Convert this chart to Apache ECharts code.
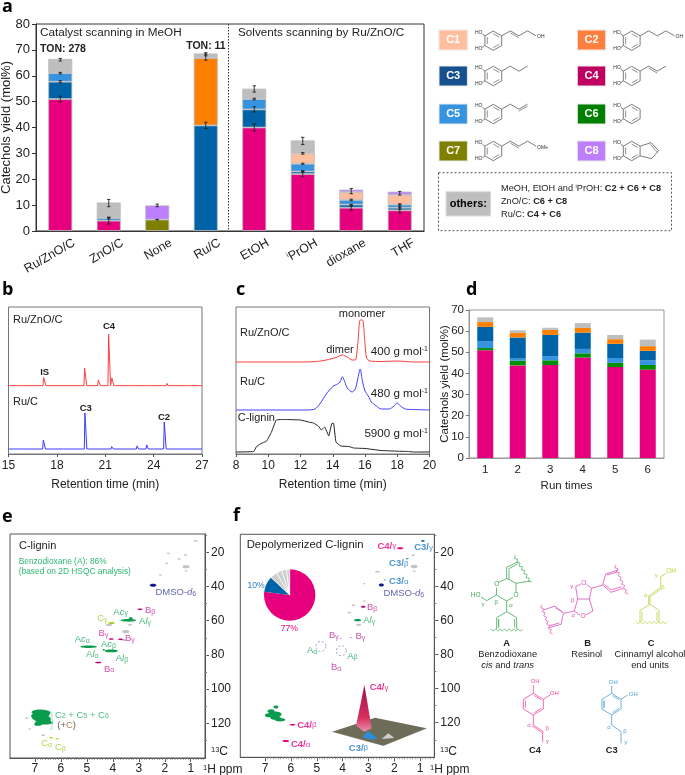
<!DOCTYPE html>
<html><head><meta charset="utf-8">
<style>html,body{margin:0;padding:0;background:#fff}#c{width:685px;height:775px}</style>
<script src="https://cdn.jsdelivr.net/npm/echarts@6/dist/echarts.min.js"></script>
</head><body><div id="c"></div>
<script>
// ---------- panel a ----------
const catsA = ['Ru/ZnO/C','ZnO/C','None','Ru/C','EtOH','{s|i}PrOH','dioxane','THF'];
const aC7 = [null,null,4.4,null,null,null,null,null];
const aC4 = [51,4,null,null,40,22,9,8];
const aC3 = [6.7,null,null,40.8,7,1,1.2,1];
const aC5 = [3.3,1,null,null,4,3,1.8,1.2];
const aC2 = [null,null,null,26,null,null,null,null];
const aC1 = [null,null,null,null,null,4,3,3.8];
const aC8 = [null,null,5.5,null,null,null,1,1.2];
const aOthers = [5.5,6,null,1.8,4,5,null,null];
const aErr = [ // [category, segment top, error]
 [0,51,1.1],[0,57.7,.4],[0,61,.3],[0,66.2,.5],
 [1,4,1.3],[1,5,.3],[1,10.8,1.4],
 [2,4.4,.1],[2,9.9,.5],
 [3,40.8,1.2],[3,67.2,1.2],[3,68.3,.6],
 [4,40,1.4],[4,47,1],[4,51,.3],[4,54.9,1.2],
 [5,22,1],[5,23,.3],[5,26,.2],[5,30,.3],[5,34.8,1.4],
 [6,9,1],[6,10,.3],[6,12,.3],[6,15.4,1],
 [7,8,1],[7,9.4,1],[7,10,.4],[7,14.6,.7]];
// ---------- panel b ----------
const bRed = [[15,46.5],[15.8,46.5],[15.85,47.2],[15.9,46.5],[17.14,46.5],[17.18,52],[17.27,52],[17.32,46.5],[18.5,46.5],[18.55,47],[18.6,46.5],[19.68,46.5],[19.72,58.5],[19.8,58.5],[19.85,46.5],[20.53,46.5],[20.57,50.4],[20.66,50.4],[20.7,46.5],[21.17,46.5],[21.21,81.6],[21.29,81.6],[21.33,46.5],[21.37,46.5],[21.41,51.7],[21.49,51.5],[21.53,46.5],[22.9,46.5],[22.95,47.2],[23,46.5],[23.55,46.5],[23.6,47.4],[23.65,46.5],[24.6,46.5],[24.65,47.4],[24.7,46.5],[24.78,46.5],[24.83,48],[24.9,46.5],[26.1,46.5],[26.15,47],[26.2,46.5],[27,46.5]];
const bBlue = [[15,3.4],[15.8,3.4],[15.85,4],[15.9,3.4],[17.12,3.4],[17.16,9.5],[17.25,9.5],[17.29,3.4],[18.4,3.4],[18.45,3.9],[18.5,3.4],[19.7,3.4],[19.74,27.9],[19.82,27.9],[19.86,3.4],[21.2,3.4],[21.25,4],[21.3,3.4],[21.36,3.4],[21.4,5],[21.47,5],[21.5,3.4],[22.93,3.4],[22.97,5.5],[23.03,5.5],[23.07,3.4],[23.53,3.4],[23.57,6.2],[23.63,6.2],[23.67,3.4],[24,3.4],[24.05,4.4],[24.1,3.4],[24.62,3.4],[24.66,21.8],[24.74,21.8],[24.78,3.4],[25.9,3.4],[25.95,4],[26,3.4],[27,3.4]];
// ---------- panel c ----------
const cRed = [[8,92],[12,92],[13,92.5],[13.6,94],[14.2,96.5],[14.6,99],[14.9,97],[15.2,94],[15.4,94],[15.55,110],[15.7,134],[15.85,134],[16,110],[16.1,96],[16.3,93],[17,92.5],[18,93],[19,92],[20,92]];
const cBlue = [[8,44],[12.4,44],[12.9,45],[13.2,50],[13.6,60],[14,67.5],[14.3,70],[14.45,72],[14.6,77.3],[14.75,72],[14.9,66],[15.2,62],[15.4,65],[15.55,75],[15.7,85],[15.85,72],[16,63],[16.2,58],[16.4,52],[16.7,48],[17,45],[17.5,45],[17.8,48],[18,51],[18.2,48],[18.5,45],[19,44.5],[20,44]];
const cBlack = [[8,2],[9.1,2.5],[9.25,7],[9.5,10],[9.9,13],[10.2,22],[10.5,34],[11,34.5],[12,34],[12.5,32],[12.8,31],[13.1,28],[13.3,24],[13.5,27],[13.75,18],[13.95,30.7],[14.05,30.7],[14.2,12],[14.5,8],[15,7.5],[15.3,6],[16,5.5],[17,3.5],[18,2.8],[18.7,2.5],[19,2],[20,2]];
// ---------- panel d ----------
const catsD = ['1','2','3','4','5','6'];
const dC4 = [51,43.8,44,47.5,43,41.8];
const dC6 = [1,2.2,2.2,2,2,2.2];
const dC5 = [3.3,1,2,2.1,2.3,2.2];
const dC3 = [6.7,10,10,7.7,6.7,4.5];
const dC2 = [2.3,2.1,2.4,2.2,2.2,2.2];
const dOthers = [2.2,1.3,1,2.3,2,3.1];
// ---------- panels e,f  [1H ppm, 13C ppm, half width ppm, half height ppm] ----------
const ticksH = [1,2,3,4,5,6,7];
const ticksC = [20,40,60,80,100,120];
const eGray = [[.81,13.4,.09,.5],[1.86,20.6,.07,.4],[1.2,21.6,.07,.4],[1.45,23.9,.07,.4],[1.93,26.4,.06,.4],[1.18,28.4,.14,1],[1.18,30.9,.06,.4],[2.17,33.3,.06,.4],[4.15,62.5,.13,.6],[3.34,62.5,.08,.5],[3.5,66.4,.14,.9],[3.57,71.3,.08,.6],[7.32,117,.08,.4],[7.2,123.3,.06,.4],[6.68,127,.08,.4]];
const eNavy = [[2.45,39.3,.13,.9]];
const eMag = [[2.95,53.3,.1,.5],[4.06,70.7,.1,.5],[3.7,70.9,.1,.5],[4.56,84.5,.13,.5]];
const eGreen = [[3.31,58.6,.08,.6],[3.4,59.8,.3,.8],[4.93,75.2,.32,.7],[4.06,77.7,.25,.8],[4.35,77,.05,.4],[6.8,113.5,.33,1.6],[6.95,115.8,.2,1.8],[6.55,114,.15,1.5],[6.75,115.3,.3,1.8],[6.75,117,.35,1.5],[6.7,118,.32,1.5],[6.65,119.5,.35,1.2],[6.88,120.5,.15,1]];
const eLime = [[4.05,61.3,.13,.6],[6.38,128.4,.08,.4],[6.15,129,.07,.4]];
const eLabels = [
 [3.98,54.9,'A{i|c}{s|γ}','#1fa85f'],[2.99,60.5,'A{i|l}{s|γ}','#1fa85f'],[2.76,53.9,'B{s|β}','#d0209a'],
 [4.6,58.8,'C{s|γ}','#9ccc20'],[4.55,67.6,'B{s|γ}','#d0209a'],[3.53,70.3,'B{s|γ}','#d0209a'],
 [5.47,71,'A{i|c}{s|α}','#1fa85f'],[4.46,73.8,'A{i|c}{s|β}','#1fa85f'],[5.03,79.8,'A{i|l}{s|α}','#1fa85f'],
 [3.89,82.2,'A{i|l}{s|β}','#1fa85f'],[4.34,88.2,'B{s|α}','#d0209a'],[2.36,43.4,'DMSO-{i|d}{s|6}','#3a3a9c'],
 [6.76,131.9,'C{s|α}','#9ccc20'],[6.23,134.2,'C{s|β}','#9ccc20'],
 [6.23,115.1,'C{s|2} + C{s|5} + C{s|6}','#1fa85f'],[6.14,121.4,'(+{b|C})','#333']];
const fGray = [[1.26,21.6,.07,.4],[1.23,28.2,.14,1],[1.23,30.9,.08,.4],[2.65,31.3,.1,.4],[3.16,38.3,.05,.4],[3.16,48.5,.05,.4],[3.58,51,.08,.5],[3.74,55.3,.08,.5],[3.38,62.5,.1,.7]];
const fNavy = [[2.5,39.1,.1,.9]];
const fBlue = [[.89,13.2,.07,.5],[1.5,23.7,.06,.3],[2.37,36.2,.04,.3]];
const fMag = [[1.77,17.5,.12,.6],[5.94,121.2,.12,.5],[6.2,130.7,.13,.6]];
const fPurple = [[3.2,51.8,.09,.6],[4.07,70.3,.03,.25],[3.68,70.1,.03,.25],[4.4,85,.02,.2]];
const fGreen = [[3.42,59.8,.14,.7],[6.58,110.8,.1,.9],[6.77,113.2,.14,1.1],[6.62,115,.26,1.6],[6.85,115.6,.16,1.2],[6.42,118.2,.2,1],[6.6,117,.2,1.3]];
const fRings = [[4.84,75.2],[4.05,77.7]];
const fLabels = [
 [2.65,16.3,'{w|C4/}{s2|γ}','#e6007e'],[1.23,17,'{w|C3/}{s2|γ}','#1a78c0'],[2.2,26.6,'{w|C3/}{s2|β}','#1a78c0'],
 [2.2,37,'{w|C3/}{s2|α}','#1a78c0'],[2.42,44,'DMSO-{i|d}{s|6}','#3a3a9c'],[3.06,52.2,'B{s|β}','#c0289a'],
 [3.2,60,'A{i|l}{s|γ}','#1fa85f'],[4.53,68.5,'B{s|γ}','#c0289a'],[3.5,69.5,'B{s|γ}','#c0289a'],
 [5.38,77.5,'A{s|α}','#1fa85f'],[3.82,80.8,'A{s|β}','#1fa85f'],[4.45,87.5,'B{s|α}','#c0289a'],
 [5.76,121.4,'{w|C4/}{s2|β}','#e6007e'],[6,133,'{w|C4/}{s2|α}','#e6007e'],
 [2.95,99.3,'{w|C4/}{s2|γ}','#e6007e'],[3.76,134.8,'{w|C3/}{s2|β}','#1a78c0']];
const pieValues = [77,10,4.5,3.5,3,2];

// ---------- styling constants ----------
const FF = '"Liberation Sans", Arial, sans-serif';
const COL = {C1:'#FFBE9E',C2:'#FF8000',C3:'#0063A8',C4:'#E6007E',C5:'#3593E0',C6:'#009000',C7:'#808000',C8:'#BE7FFF',oth:'#BEBEBE'};
const TXT = '#222';
const G = [];
function T(x,y,text,o){o=o||{};
 G.push({type:'text',x,y,silent:true,z:50,style:{text,fill:o.c||TXT,fontFamily:o.ff||FF,fontSize:o.s||11,fontWeight:o.b?'bold':'normal',fontStyle:o.it?'italic':'normal',align:o.a||'left',verticalAlign:'middle',rich:o.rich}});}
function L(pts,color,w,dash,fill){G.push({type:'polyline',silent:true,z:40,shape:{points:pts},style:{stroke:color,lineWidth:w||.7,fill:fill||null,lineDash:dash||null}});}
function R(x,y,w,h,fill,stroke,dash){G.push({type:'rect',silent:true,z:30,shape:{x,y,width:w,height:h},style:{fill:fill||'none',stroke:stroke||null,lineWidth:stroke?1:0,lineDash:dash||null}});}
function PG(pts,fill,op){G.push({type:'polygon',silent:true,z:45,shape:{points:pts},style:{fill,opacity:op==null?1:op}});}
const Z=(ox,oy,pts)=>pts.map(p=>[ox+p[0]/3,oy+p[1]/3]);
function wavy(p,q,color){const n=Math.round(Math.hypot(q[0]-p[0],q[1]-p[1])/2.2),dx=(q[0]-p[0])/n,dy=(q[1]-p[1])/n,l=Math.hypot(dx,dy),pts=[];
 for(let i=0;i<=n;i++){const s=i%2?1.2:-1.2;pts.push([p[0]+dx*i-dy/l*s,p[1]+dy*i+dx/l*s]);}L(pts,color,.7);}
function dbl(a,b,ox,oy,color,w){L([[a[0]+ox,a[1]+oy],[b[0]+ox,b[1]+oy]],color,w);}

// panel letters
[['a',2,7],['b',2,290],['c',236,290],['d',466,290],['e',2,517],['f',233,516]].forEach(a=>T(a[1],a[2],a[0],{s:18,b:1,ff:'"Open Sans",'+FF,c:'#000'}));

// small catechol structures of panel a
function mol(cx,cy,pattern,end){const r=9.7,c='#444',v=[];for(let i=0;i<6;i++){const a=(-90+60*i)*Math.PI/180;v.push([cx+r*Math.cos(a),cy+r*Math.sin(a)]);}
 L(v.concat([v[0]]),c,.7);
 [[0,1],[2,3],[4,5]].forEach(e=>{const s=.72;L([[cx+(v[e[0]][0]-cx)*s,cy+(v[e[0]][1]-cy)*s],[cx+(v[e[1]][0]-cx)*s,cy+(v[e[1]][1]-cy)*s]],c,.6);});
 L([v[5],[v[5][0]-2.5,v[5][1]-2]],c,.7);L([v[4],[v[4][0]-2.5,v[4][1]+2]],c,.7);
 T(v[5][0]-2.5,v[5][1]-3.2,'HO',{s:5,a:'right',c:'#333'});T(v[4][0]-2.5,v[4][1]+3.2,'HO',{s:5,a:'right',c:'#333'});
 let p=v[1];(pattern||'').split('').forEach(ch=>{const up=ch.toLowerCase()==='u',q=[p[0]+8.6,p[1]+(up?-5:5)];L([p,q],c,.7);if(ch===ch.toUpperCase())dbl(p,q,0,2,c,.6);p=q;});
 if(end)T(p[0]+1,p[1]+1,end,{s:5,c:'#333'});
 return v;}
[['C1',439,30,COL.C1,493.3,40.7,'uDud','OH'],['C2',577.3,30,'#FF7F3F',631.7,40.7,'udud','OH'],
 ['C3',439,66,'#17508F',493.3,76,'udu',''],['C4',577.3,66,'#BF0060',631.7,76,'uDu',''],
 ['C5',439,104,COL.C5,493.3,114,'udU',''],['C6',577.3,104,'#007F00',631.7,114,'',''],
 ['C7',439,141,COL.C7,493.3,151,'uDud','OMe'],['C8',577.3,141,COL.C8,631.7,151,'','']].forEach(m=>{
  R(m[1],m[2],28.4,20,m[3],'#e8e8e8');T(m[1]+14.2,m[2]+10,m[0],{s:11,b:1,c:'#fff',a:'center'});
  const v=mol(m[4],m[5],m[6],m[7]);
  if(m[0]==='C8'){const a=[v[1][0]+11,v[1][1]-3.5],b=[a[0]+7.5,a[1]+8],c=[b[0]-7,b[1]+8];L([v[1],a,b,c,v[2]],'#444',.7);dbl(a,b,-1,1.6,'#444',.6);}
 });
R(438.5,172.7,233,58,null,'#555',[2,2]);
R(446,191.7,44.7,24.3,COL.oth,'#ddd');T(468.3,203.8,'others:',{s:11,b:1,c:'#000',a:'center'});
T(501,188,'MeOH, EtOH and {u|i}PrOH: {b|C2 + C6 + C8}',{s:9.2,rich:{u:{fontSize:5.5,verticalAlign:'top',fill:TXT,fontFamily:FF},b:{fontSize:9.2,fontWeight:'bold',fill:TXT,fontFamily:FF}}});
T(501,201.7,'ZnO/C: {b|C6 + C8}',{s:9.2,rich:{b:{fontSize:9.2,fontWeight:'bold',fill:TXT,fontFamily:FF}}});
T(501,214.3,'Ru/C: {b|C4 + C6}',{s:9.2,rich:{b:{fontSize:9.2,fontWeight:'bold',fill:TXT,fontFamily:FF}}});

// panel a annotations
L([[228.5,24],[228.5,231]],'#333',1,[1.5,1.5]);
T(40,33,'Catalyst scanning in MeOH',{s:11.7});
T(238,33,'Solvents scanning by Ru/ZnO/C',{s:11.7});
T(40,49,'TON: 278',{s:10.5,b:1});T(225.7,46,'TON: 11',{s:10.5,b:1,a:'right'});
// panel b annotations
T(13,320,'Ru/ZnO/C',{s:11});T(109,326,'C4',{s:9.5,b:1,a:'center'});T(44.7,372.7,'IS',{s:9.5,b:1,a:'center'});
T(13,401.7,'Ru/C',{s:11});T(85.7,408,'C3',{s:9.5,b:1,a:'center'});T(164,417.7,'C2',{s:9.5,b:1,a:'center'});
// panel c annotations
const supR={u:{fontSize:7,verticalAlign:'top',fill:TXT,fontFamily:FF}};
T(362,314,'monomer',{s:11,a:'center'});T(240,332.7,'Ru/ZnO/C',{s:11});T(340,350,'dimer',{s:11,a:'center'});
T(428,352,'400 g mol{u|-1}',{s:11.6,a:'right',rich:supR});T(240,382,'Ru/C',{s:11});
T(428,394,'480 g mol{u|-1}',{s:11.6,a:'right',rich:supR});T(237.7,418,'C-lignin',{s:11});
T(428,434,'5900 g mol{u|-1}',{s:11.6,a:'right',rich:supR});
// panel e annotations
T(19,545.7,'C-lignin',{s:11});T(18.7,561.7,'Benzodioxane (A): 86%',{s:8.4,c:'#2eb872'});T(18.7,572,'(based on 2D HSQC analysis)',{s:8.4,c:'#2eb872'});
L(Z(0,505,[[149,620],[156,622],[156,644],[160,646],[156,648],[156,672],[149,674]]),'#8fdcb8',.8);
const ax={u:{fontSize:7.5,verticalAlign:'top',fill:TXT,fontFamily:FF}};
T(211,752,'{u|13}C',{s:12,rich:ax});T(203,770,'{u|1}H ppm',{s:12,rich:ax});
T(440,752,'{u|13}C',{s:12,rich:ax});T(430,770,'{u|1}H ppm',{s:12,rich:ax});
// panel f annotations
T(246.7,545,'Depolymerized C-lignin',{s:11.3});T(256,586,'10%',{s:8.6,a:'center',c:'#2a80c0'});T(289.3,628.7,'77%',{s:8.6,a:'center',c:'#e6007e'});
// 3D inset of panel f
PG(Z(325,675,[[22,170],[150,128],[305,160],[175,212]]),'#6c6c58');
PG(Z(325,675,[[170,192],[190,175],[208,189]]),'#cfcfcf');
PG(Z(325,675,[[112,186],[130,168],[158,190],[138,194]]),'#2a8fd8');
G.push({type:'polygon',silent:true,z:46,shape:{points:Z(325,675,[[93,152],[108,80],[118,30],[125,70],[140,160],[118,170]])},style:{fill:{type:'linear',x:0,y:0,x2:0,y2:1,colorStops:[{offset:0,color:'#a0104e'},{offset:.7,color:'#d8305f'},{offset:1,color:'#e890b0'}]}}});
L(Z(325,675,[[22,170],[175,212],[305,160]]),'#aaa',.8,[1,1]);

// panel A..C4,C3 drawings
const GR='#3fa858',MG='#dc50b4',LM='#b4d63c',PK='#f04aa4',BL='#4f9fd4',O7=[455,505];
const zl=(pts,c,w)=>L(Z(O7[0],O7[1],pts),c,w||.8);
const zt=(x,y,t,c,o)=>T(O7[0]+x/3,O7[1]+y/3,t,Object.assign({s:6,c:c,a:'center'},o||{}));
const zw=(a,b,c)=>wavy([O7[0]+a[0]/3,O7[1]+a[1]/3],[O7[0]+b[0]/3,O7[1]+b[1]/3],c);
// A
zl([[125,372],[125,338],[155,320],[185,338],[185,372]],GR);zl([[131,342],[131,368]],GR,1);zl([[179,342],[179,368]],GR);
zl([[155,320],[155,288],[174,277]],GR);zl([[155,288],[124,270],[125,248]],GR);zl([[132,232],[155,220],[183,235],[183,262]],GR);
zl([[155,220],[155,187],[190,170]],GR);zl([[160,192],[188,177]],GR);zl([[183,235],[225,228]],GR);zl([[162,225],[162,194]],GR);
zl([[124,270],[95,287],[78,276]],GR);zw([178,153],[227,233],GR);zw([108,375],[203,375],GR);
zt(125,238,'O',GR,{s:6.5});zt(183,270,'O',GR,{s:6.5});zt(62,271,'HO',GR,{s:6.5});zt(84,299,'γ',GR);zt(124,292,'β',GR);zt(168,300,'α',GR);
// B
zl([[368,282],[362,245],[378,237]],MG);zl([[394,238],[410,250],[403,282],[368,282],[358,318],[375,330]],MG);zl([[392,330],[414,318],[403,282]],MG);
zl([[410,250],[443,240],[452,207],[490,195]],MG);zl([[443,240],[468,262],[505,250]],MG);zl([[456,210],[486,201]],MG);zl([[448,238],[468,255],[500,245]],MG);
zl([[358,318],[325,325],[300,303],[265,315]],MG);zl([[325,325],[318,358],[282,368]],MG);zl([[322,320],[302,309]],MG);zl([[313,354],[284,362]],MG);
zw([480,180],[516,268],MG);zw([258,300],[290,388],MG);
zt(386,235,'O',MG,{s:6.5});zt(384,333,'O',MG,{s:6.5});zt(350,243,'γ',MG);zt(353,285,'β',MG);zt(355,330,'α',MG);
// C
zl([[555,352],[555,316],[585,298],[612,316],[612,352]],LM);zl([[561,320],[561,348]],LM);zl([[606,320],[606,348]],LM);zl([[585,298],[585,270],[617,247],[617,215],[634,205]],LM);zl([[589,273],[619,251]],LM);zl([[581,298],[581,272]],LM);
zw([543,353],[637,353],LM);zt(648,200,'OH',LM,{s:6.5});zt(604,212,'γ',LM);zt(624,248,'β',LM);zt(572,270,'α',LM);
// C4
zl([[235,565],[205,583],[205,612],[235,630],[265,612],[265,583],[235,565],[235,540]],PK);zl([[211,587],[211,608]],PK);zl([[238,572],[258,584]],PK);zl([[238,623],[258,610]],PK);zl([[265,583],[285,570]],PK);
zl([[235,630],[235,660],[263,678],[263,712]],PK);zl([[231,662],[260,682]],PK);zt(240,530,'OH',PK,{s:6});zt(298,565,'OH',PK,{s:6});zt(222,661,'α',PK);zt(277,671,'β',PK);zt(277,710,'γ',PK);
// C3
zl([[470,565],[441,583],[441,612],[470,630],[498,612],[498,583],[470,565],[470,543]],BL);zl([[447,587],[447,608]],BL,1.2);zl([[473,572],[492,584]],BL);zl([[473,623],[492,610]],BL);zl([[498,583],[518,570]],BL);
zl([[470,630],[470,660],[498,680],[498,715]],BL);zt(475,533,'OH',BL,{s:6});zt(535,567,'OH',BL,{s:6});zt(462,667,'α',BL);zt(510,678,'β',BL);zt(512,712,'γ',BL);
const lab=[[155,416,'A',1],[158,449,'Benzodioxane'],[398,416,'B',1],[395,449,'Resinol'],[588,416,'C',1],[585,449,'Cinnamyl alcohol'],[585,480,'end units'],[240,737,'C4',1],[470,737,'C3',1]];
lab.forEach(l=>zt(l[0],l[1],l[2],'#222',{s:9.3,b:l[3]}));
T(O7[0]+158/3,O7[1]+480/3,'{i|cis} and {i|trans}',{s:9.3,a:'center',rich:{i:{fontSize:9.3,fontStyle:'italic',fill:TXT,fontFamily:FF}}});

// ---------- axes ----------
const tickTxt=(s,extra)=>Object.assign({color:TXT,fontFamily:FF,fontSize:s},extra||{});
const grids=[
 {left:36,top:24,width:388,height:207,borderColor:'#333'},
 {left:8.5,top:307,width:193.5,height:147,borderColor:'#777'},
 {left:236,top:307,width:193.5,height:147,borderColor:'#777'},
 {left:469,top:310,width:195,height:148,borderColor:'#999'},
 {left:10,top:534,width:195,height:224,borderColor:'#555'},
 {left:240.3,top:534.3,width:194,height:223,borderColor:'#555'}
].map(g=>Object.assign({show:true,borderWidth:1,backgroundColor:'#fff',outerBoundsMode:'none',containLabel:false},g));
function nmrX(grid,min,max){const base={type:'value',gridIndex:grid,inverse:true,min,max,position:'bottom',splitLine:{show:false},axisLine:{show:true,onZero:false,lineStyle:{color:'#555'}}};
 const minor=[];for(let v=1;v<=70;v++){const t=v/10;if(t>min&&t<max)minor.push(t);}
 return [Object.assign({},base,{axisTick:{show:true,customValues:ticksH,length:4,lineStyle:{color:'#555'}},axisLabel:{show:true,customValues:ticksH,margin:5,...tickTxt(12)}}),
  Object.assign({},base,{axisTick:{show:true,customValues:minor,length:2,lineStyle:{color:'#777',width:.6}},axisLabel:{show:false}})];}
function nmrY(grid,min,max){const base={type:'value',gridIndex:grid,inverse:true,min,max,position:'right',splitLine:{show:false},axisLine:{show:true,onZero:false,lineStyle:{color:'#555'}}};
 const minor=[];for(let v=10;v<=130;v+=10)if(v>min&&v<max)minor.push(v);
 return [Object.assign({},base,{axisTick:{show:true,customValues:ticksC,length:4,lineStyle:{color:'#555'}},axisLabel:{show:true,customValues:ticksC,margin:6,...tickTxt(12)}}),
  Object.assign({},base,{axisTick:{show:true,customValues:minor,length:2,lineStyle:{color:'#777'}},axisLabel:{show:false}})];}
const xAxis=[
 {type:'category',gridIndex:0,data:catsA,axisTick:{show:false},axisLine:{lineStyle:{color:'#333'}},
  axisLabel:{interval:0,rotate:30,margin:19,padding:[0,-16,0,0],...tickTxt(12.5),rich:{s:{fontSize:7,verticalAlign:'top',fontFamily:FF,color:TXT}}}},
 {type:'value',gridIndex:1,min:15,max:27,interval:3,splitLine:{show:false},axisLine:{lineStyle:{color:'#777'}},axisTick:{length:3,lineStyle:{color:'#555'}},axisLabel:{margin:6,...tickTxt(12)},
  name:'Retention time (min)',nameLocation:'middle',nameGap:25,nameTextStyle:tickTxt(12)},
 {type:'value',gridIndex:2,min:8,max:20,interval:2,splitLine:{show:false},axisLine:{lineStyle:{color:'#777'}},axisTick:{length:3,lineStyle:{color:'#555'}},axisLabel:{margin:6,...tickTxt(12)},
  name:'Retention time (min)',nameLocation:'middle',nameGap:25,nameTextStyle:tickTxt(12)},
 {type:'category',gridIndex:3,data:catsD,axisTick:{alignWithLabel:true,length:3,lineStyle:{color:'#777'}},axisLine:{lineStyle:{color:'#999'}},axisLabel:{margin:6,...tickTxt(11.5)},
  name:'Run times',nameLocation:'middle',nameGap:22,nameTextStyle:tickTxt(11.5)},
 ...nmrX(4,.45,7.96),...nmrX(5,.45,7.96)
];
const yAxis=[
 {type:'value',gridIndex:0,min:0,max:80,interval:10,splitLine:{show:false},axisLine:{show:true,lineStyle:{color:'#333'}},axisTick:{show:true,length:4,lineStyle:{color:'#333'}},axisLabel:{margin:6,...tickTxt(13)},
  name:'Catechols yield (mol%)',nameLocation:'middle',nameGap:23,nameMoveOverlap:false,nameTextStyle:tickTxt(13)},
 {type:'value',gridIndex:1,min:0,max:100,show:false},
 {type:'value',gridIndex:2,min:0,max:147,show:false},
 {type:'value',gridIndex:3,min:0,max:70,interval:10,splitLine:{show:false},axisLine:{show:true,lineStyle:{color:'#999'}},axisTick:{show:true,length:3,lineStyle:{color:'#777'}},axisLabel:{margin:5,...tickTxt(11.5)},
  name:'Catechols yield (mol%)',nameLocation:'middle',nameGap:18,nameMoveOverlap:false,nameTextStyle:tickTxt(11.5)},
 ...nmrY(4,9.3,140.3),...nmrY(5,9.3,140.3)
];

// ---------- series ----------
const bar=(name,data,color,ax,bw,bc,bwd)=>({name,type:'bar',stack:'s'+ax,xAxisIndex:ax,yAxisIndex:ax,data,barWidth:bw,itemStyle:{color,borderColor:bc,borderWidth:bwd},silent:true,animation:false});
const line=(data,color,ax,smooth)=>({type:'line',xAxisIndex:ax,yAxisIndex:ax,data,showSymbol:false,smooth:smooth||false,lineStyle:{color,width:1},silent:true,animation:false});
const peakSeries=(data,color,xi,yi)=>({type:'custom',xAxisIndex:xi,yAxisIndex:yi,data,encode:{x:0,y:1},silent:true,animation:false,
 renderItem:(p,api)=>{const c=api.coord([api.value(0),api.value(1)]),s=api.size([api.value(2),api.value(3)]);
  return {type:'ellipse',shape:{cx:c[0],cy:c[1],rx:Math.abs(s[0]),ry:Math.abs(s[1])},style:{fill:color}};}});
const labelRich={s:{fontSize:7,verticalAlign:'bottom',fontFamily:FF},s2:{fontSize:8,fontFamily:FF,fontWeight:'normal'},i:{fontSize:9.5,fontStyle:'italic',fontFamily:FF},
 w:{fontSize:9.5,fontWeight:'bold',fontFamily:FF},b:{fontSize:9.5,color:'#a5602a',fontFamily:FF}};
const labelSeries=(rows,xi,yi)=>({type:'scatter',xAxisIndex:xi,yAxisIndex:yi,symbolSize:0,silent:true,animation:false,z:20,
 data:rows.map(r=>({value:[r[0],r[1]],label:{show:true,position:'right',distance:0,formatter:r[2],color:r[3],fontSize:9.5,fontFamily:FF,rich:labelRich}}))});
const errSeries={type:'custom',xAxisIndex:0,yAxisIndex:0,data:aErr,encode:{x:0,y:1},silent:true,animation:false,z:10,
 renderItem:(p,api)=>{const i=api.value(0),t=api.value(1),e=api.value(2),a=api.coord([i,t+e]),b=api.coord([i,t-e]),st={stroke:'#222',lineWidth:.9};
  return {type:'group',children:[
   {type:'line',shape:{x1:a[0],y1:a[1],x2:b[0],y2:b[1]},style:st},
   {type:'line',shape:{x1:a[0]-1.7,y1:a[1],x2:a[0]+1.7,y2:a[1]},style:st},
   {type:'line',shape:{x1:b[0]-1.7,y1:b[1],x2:b[0]+1.7,y2:b[1]},style:st}]};}};
const series=[
 bar('C7',aC7,COL.C7,0,24,'#bbb',.8),bar('C4',aC4,COL.C4,0,24,'#bbb',.8),bar('C3',aC3,COL.C3,0,24,'#bbb',.8),bar('C5',aC5,COL.C5,0,24,'#bbb',.8),
 bar('C2',aC2,COL.C2,0,24,'#bbb',.8),bar('C1',aC1,COL.C1,0,24,'#bbb',.8),bar('C8',aC8,COL.C8,0,24,'#bbb',.8),bar('others',aOthers,COL.oth,0,24,'#bbb',.8),
 errSeries,
 line(bRed,'#ff4040',1),line(bBlue,'#3a3aff',1),
 line(cRed,'#ff3a3a',2,.25),line(cBlue,'#4040ff',2,.25),line(cBlack,'#222',2,.1),
 bar('C4',dC4,COL.C4,3,16,'#eee',0),bar('C6',dC6,COL.C6,3,16,'#eee',0),bar('C5',dC5,COL.C5,3,16,'#eee',0),bar('C3',dC3,COL.C3,3,16,'#eee',0),bar('C2',dC2,COL.C2,3,16,'#eee',0),bar('others',dOthers,COL.oth,3,16,'#eee',0),
 peakSeries(eGray,'#c4c4c4',4,4),peakSeries(eNavy,'#15158c',4,4),peakSeries(eMag,'#c4007f',4,4),peakSeries(eGreen,'#0a9c4c',4,4),peakSeries(eLime,'#a8d028',4,4),labelSeries(eLabels,4,4),
 {type:'line',xAxisIndex:5,yAxisIndex:5,data:[],silent:true},
 peakSeries(fGray,'#c4c4c4',6,6),peakSeries(fNavy,'#15158c',6,6),peakSeries(fBlue,'#0a6cb0',6,6),peakSeries(fMag,'#e6007e',6,6),peakSeries(fPurple,'#a8108c',6,6),peakSeries(fGreen,'#0a9c4c',6,6),labelSeries(fLabels,6,6),
 {type:'line',xAxisIndex:7,yAxisIndex:7,data:[],silent:true},
 {type:'scatter',xAxisIndex:6,yAxisIndex:6,data:fRings,symbolSize:10,silent:true,animation:false,itemStyle:{color:'rgba(0,0,0,0)',borderColor:'#6070c0',borderWidth:.8,borderType:[2,2]}},
 {type:'pie',center:[289.7,595],radius:[0,25.7],startAngle:90,clockwise:true,silent:true,animation:false,z:15,label:{show:false},labelLine:{show:false},
  data:pieValues.map((v,i)=>({value:v,itemStyle:{color:i==0?COL.C4:i==1?COL.C3:'#cfcfcf',borderColor:i<2?'transparent':'#fff',borderWidth:i<2?0:.7}}))}
];
const chart=echarts.init(document.getElementById('c'),null,{renderer:'canvas',width:685,height:775});
chart.setOption({animation:false,backgroundColor:'#fff',grid:grids,xAxis,yAxis,series,graphic:{elements:G}});
</script></body></html>
